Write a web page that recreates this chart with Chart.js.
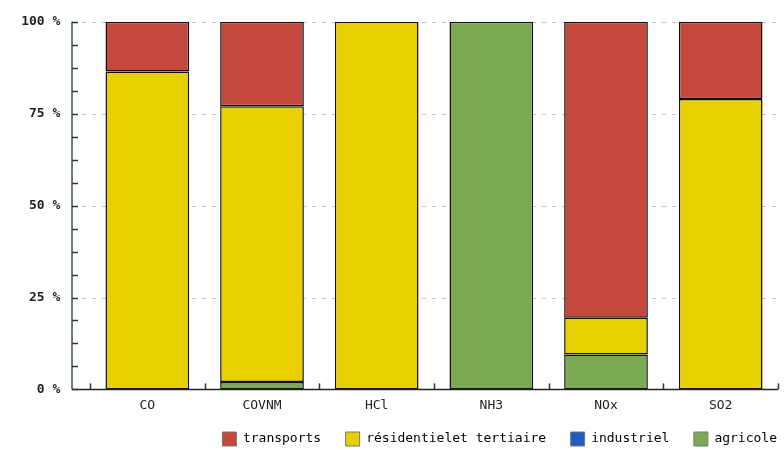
<!DOCTYPE html>
<html>
<head>
<meta charset="utf-8">
<script src="https://cdn.jsdelivr.net/npm/chart.js@4"></script>
<style>
  html, body { margin: 0; padding: 0; background: #fff; }
  #wrap { width: 784px; height: 450px; position: relative; }
</style>
</head>
<body>
<div id="wrap"><canvas id="myChart"></canvas></div>
<script>
const categories = ['CO', 'COVNM', 'HCl', 'NH3', 'NOx', 'SO2'];
const agricole = [0, 2, 0, 100, 9.5, 0];
const industriel = [0, 0, 0, 0, 0, 0];
const residentiel = [86.5, 75, 100, 0, 10, 79];
const transports = [13.5, 23, 0, 0, 80.5, 21];

const red = '#c4483e';
const yellow = '#e8d000';
const blue = '#1f5cbf';
const green = '#7da955';
const font = { family: 'DejaVu Sans Mono', size: 13 };
const axisGap = 18; // the y axis sits a bit left of the first category

// axes, dashed grid and inward tick marks like the original
const oldAxes = {
  id: 'oldAxes',
  beforeDatasetsDraw(chart) {
    const c = chart.ctx;
    const x = chart.scales.x, y = chart.scales.y;
    c.save();
    c.strokeStyle = '#c4c4c4';
    c.lineWidth = 1;
    c.setLineDash([4, 6]);
    [25, 50, 75, 100].forEach(v => {
      const py = Math.round(y.getPixelForValue(v)) + 0.5;
      c.beginPath();
      c.moveTo(x.left - axisGap, py);
      c.lineTo(x.right, py);
      c.stroke();
    });
    c.restore();
  },
  afterDraw(chart) {
    const c = chart.ctx;
    const x = chart.scales.x, y = chart.scales.y;
    const ax = x.left - axisGap;
    c.save();
    c.lineWidth = 1.5;
    c.strokeStyle = '#3a5446';
    c.beginPath();
    c.moveTo(ax, y.top);
    c.lineTo(ax, y.bottom);
    c.stroke();
    c.strokeStyle = '#222';
    c.beginPath();
    c.moveTo(ax, y.bottom);
    c.lineTo(x.right, y.bottom);
    c.stroke();
    c.strokeStyle = '#333';
    for (let v = 0; v <= 100; v += 6.25) {
      const py = Math.round(y.getPixelForValue(v)) + 0.5;
      c.beginPath();
      c.moveTo(ax, py);
      c.lineTo(ax + 6, py);
      c.stroke();
    }
    for (let i = 0; i <= categories.length; i++) {
      const px = Math.round(x.getPixelForValue(i - 0.5)) + 0.5;
      c.beginPath();
      c.moveTo(px, y.bottom);
      c.lineTo(px, y.bottom - 6);
      c.stroke();
    }
    c.restore();
  }
};

const ds = (label, data, color) => ({
  label: label,
  data: data,
  backgroundColor: color,
  borderColor: '#111',
  borderWidth: (ctx) => ctx.raw ? 1.5 : 0,
  borderSkipped: false
});

new Chart(document.getElementById('myChart'), {
  type: 'bar',
  data: {
    labels: categories,
    datasets: [
      ds('agricole', agricole, green),
      ds('industriel', industriel, blue),
      ds('résidentielet tertiaire', residentiel, yellow),
      ds('transports', transports, red)
    ]
  },
  options: {
    responsive: true,
    maintainAspectRatio: false,
    animation: false,
    datasets: { bar: { barPercentage: 0.73, categoryPercentage: 1 } },
    layout: { padding: { top: 5, right: 6, left: 0, bottom: -6 } },
    plugins: {
      legend: {
        position: 'bottom',
        align: 'end',
        reverse: true,
        labels: {
          font: { family: 'DejaVu Sans Mono', size: 13 },
          color: '#222',
          boxWidth: 14,
          boxHeight: 14,
          padding: 1,
          generateLabels: (chart) => chart.data.datasets.map((d, i) => ({
            text: i ? d.label + '   ' : d.label,
            fillStyle: d.backgroundColor,
            strokeStyle: '#777',
            lineWidth: 1,
            datasetIndex: i
          }))
        }
      },
      tooltip: { enabled: false }
    },
    scales: {
      x: {
        stacked: true,
        grid: { display: false, drawTicks: false, tickLength: 0 },
        border: { display: false },
        afterFit: (scale) => { scale.height += 10; },
        ticks: { font: font, color: '#222', padding: 8 }
      },
      y: {
        stacked: true,
        min: 0,
        max: 100,
        grid: { display: false, drawTicks: false, tickLength: 0 },
        border: { display: false },
        afterFit: (scale) => { scale.width = 90; },
        ticks: {
          stepSize: 6.25,
          autoSkip: false,
          padding: 14,
          font: { family: 'DejaVu Sans Mono', size: 13, weight: 'bold' },
          color: '#222',
          callback: (v) => v % 25 === 0 ? v + ' %  ' : ''
        }
      }
    }
  },
  plugins: [oldAxes]
});
</script>
</body>
</html>
